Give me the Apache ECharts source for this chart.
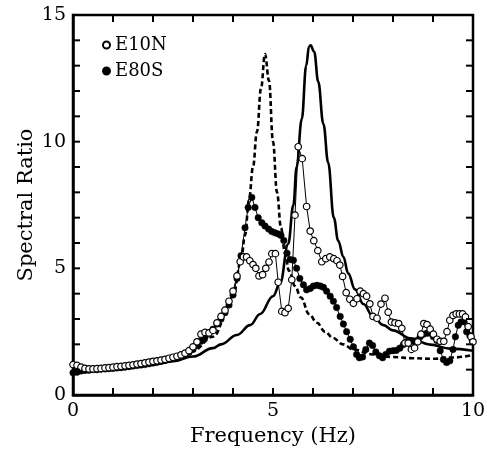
<!DOCTYPE html>
<html>
<head>
<meta charset="utf-8">
<script src="https://cdn.jsdelivr.net/npm/echarts@6/dist/echarts.min.js"></script>
<style>
html,body{margin:0;padding:0;background:#fff;}
#chart{width:490px;height:452px;}
</style>
</head>
<body>
<div id="chart"></div>
<script>
// ---- data ----
const seriesNames = ['E10N', 'E80S'];
const xTickLabels = [0, 5, 10];
const yTickLabels = [0, 5, 10, 15];
const xTickValues = [0, 1, 2, 3, 4, 5, 6, 7, 8, 9, 10];
const yTickValues = [0, 1, 2, 3, 4, 5, 6, 7, 8, 9, 10, 11, 12, 13, 14, 15];
const X_MIN = 0, X_MAX = 10, Y_MIN = 0, Y_MAX = 15;

const e10nFreq = [0,0.1,0.2,0.3,0.4,0.5,0.6,0.7,0.8,0.9,1.0,1.1,1.2,1.3,1.4,1.5,1.6,1.7,1.8,1.9,2.0,2.1,2.2,2.3,2.4,2.5,2.6,2.7,2.8,2.9,3.0,3.1,3.2,3.3,3.4,3.5,3.6,3.7,3.8,3.9,4.0,
  4.1,4.18,4.26,4.34,4.42,4.5,4.57,4.65,4.74,4.82,4.9,4.97,5.06,5.13,5.22,5.3,5.38,5.47,5.55,5.63,5.73,5.84,5.93,6.02,6.12,6.22,6.32,6.42,6.52,6.6,6.67,6.74,6.83,6.92,7.01,7.1,7.18,7.26,7.34,7.42,7.5,7.6,7.7,7.8,7.88,7.96,8.05,8.14,8.22,8.3,8.38,8.46,8.54,8.62,8.7,8.77,8.85,8.93,9.01,9.1,9.18,9.27,9.35,9.42,9.5,9.58,9.66,9.74,9.81,9.88,9.95,10.0];
const e10nVals = [1.2,1.17,1.1,1.05,1.03,1.03,1.04,1.05,1.07,1.08,1.1,1.12,1.13,1.15,1.17,1.19,1.22,1.24,1.27,1.3,1.33,1.35,1.38,1.41,1.45,1.49,1.53,1.58,1.65,1.75,1.9,2.1,2.4,2.47,2.45,2.55,2.85,3.1,3.35,3.7,4.1,
  4.7,5.26,5.45,5.45,5.3,5.15,5.0,4.7,4.75,5.0,5.25,5.58,5.58,4.45,3.3,3.25,3.42,4.55,7.1,9.8,9.33,7.44,6.47,6.09,5.7,5.26,5.38,5.45,5.38,5.3,5.13,4.68,4.04,3.78,3.62,3.8,4.1,4.0,3.9,3.6,3.1,3.03,3.59,3.82,3.27,2.88,2.85,2.82,2.63,2.05,2.05,1.8,1.86,2.1,2.4,2.82,2.78,2.6,2.4,2.2,2.12,2.12,2.5,2.95,3.14,3.2,3.2,3.2,3.08,2.7,2.3,2.1];

const e80sFreq = [0,0.1,0.2,0.3,0.4,0.5,0.6,0.7,0.8,0.9,1.0,1.1,1.2,1.3,1.4,1.5,1.6,1.7,1.8,1.9,2.0,2.1,2.2,2.3,2.4,2.5,2.6,2.7,2.8,2.9,3.0,3.1,3.2,3.3,3.4,3.5,3.6,3.7,3.8,3.9,4.0,
  4.1,4.2,4.3,4.38,4.47,4.55,4.63,4.72,4.8,4.89,4.97,5.05,5.13,5.2,5.27,5.35,5.43,5.51,5.59,5.67,5.76,5.84,5.93,6.01,6.1,6.18,6.26,6.34,6.43,6.51,6.59,6.68,6.76,6.84,6.93,7.01,7.09,7.16,7.24,7.32,7.41,7.49,7.57,7.66,7.74,7.82,7.91,8.0,8.08,8.17,8.26,8.34,8.43,8.51,8.6,8.68,8.76,8.85,8.93,9.01,9.1,9.18,9.26,9.34,9.42,9.5,9.56,9.63,9.7,9.77,9.84,9.92,9.98];
const e80sVals = [0.88,0.9,0.95,0.97,0.98,1.0,1.0,1.02,1.03,1.04,1.05,1.07,1.08,1.1,1.12,1.14,1.16,1.18,1.2,1.23,1.26,1.3,1.33,1.36,1.4,1.44,1.48,1.53,1.6,1.68,1.8,1.95,2.12,2.28,2.45,2.6,2.8,3.0,3.25,3.55,3.95,
  4.6,5.5,6.6,7.4,7.8,7.4,7.0,6.8,6.67,6.55,6.45,6.4,6.36,6.3,6.1,5.6,5.35,5.32,5.0,4.6,4.35,4.15,4.2,4.3,4.33,4.3,4.25,4.1,3.9,3.7,3.45,3.1,2.8,2.5,2.2,1.9,1.6,1.47,1.5,1.8,2.05,1.95,1.7,1.55,1.47,1.6,1.73,1.75,1.76,1.85,1.99,2.1,2.12,2.12,2.15,2.3,2.4,2.44,2.44,2.3,2.15,1.75,1.4,1.28,1.35,1.8,2.3,2.75,2.88,2.9,2.5,2.35,2.15];

// theoretical response (solid)
const solidFreq = [0,0.5,1.0,1.5,2.0,2.5,3.0,3.5,3.7,4.1,4.43,4.68,5.0,5.18,5.38,5.51,5.59,5.72,5.83,5.9,5.94,6.03,6.13,6.26,6.38,6.52,6.63,6.76,6.88,7.05,7.26,7.5,7.76,8.0,8.43,8.93,9.43,10.0];
const solidVals = [0.98,1.0,1.05,1.12,1.2,1.33,1.52,1.85,2.0,2.37,2.76,3.2,3.9,4.42,5.96,7.5,9.0,10.9,13.0,13.75,13.8,13.55,12.37,10.7,9.17,7.0,6.09,5.45,4.8,4.17,3.59,3.1,2.76,2.55,2.24,1.99,1.83,1.75];

// theoretical response (dashed)
const dashFreq = [0,1.0,2.0,3.0,3.5,4.0,4.2,4.3,4.4,4.5,4.6,4.7,4.8,4.9,5.0,5.1,5.2,5.3,5.4,5.55,5.7,5.9,6.1,6.3,6.5,6.75,7.0,7.5,8.0,8.5,9.0,9.5,10.0];
const dashVals = [0.95,1.06,1.28,1.75,2.3,3.9,5.3,6.3,7.7,9.0,10.4,12.1,13.46,12.4,10.0,8.0,6.6,5.6,4.9,4.3,3.85,3.2,2.85,2.5,2.25,2.0,1.8,1.6,1.5,1.45,1.43,1.48,1.58];

// ---- build ----
const zip = (xs, ys) => xs.map((x, i) => [x, ys[i]]);
const FONT = 'DejaVu Serif';
const TICK_LEN = 7;
const tickStyle = {stroke: '#000', lineWidth: 2};

// inward tick marks on all four sides, positioned through the axis scales
function xTickRender(params, api) {
  const v = api.value(0);
  const pb = api.coord([v, Y_MIN]);
  const pt = api.coord([v, Y_MAX]);
  return {type: 'group', children: [
    {type: 'line', shape: {x1: pb[0], y1: pb[1], x2: pb[0], y2: pb[1] - TICK_LEN}, style: tickStyle},
    {type: 'line', shape: {x1: pt[0], y1: pt[1], x2: pt[0], y2: pt[1] + TICK_LEN}, style: tickStyle}
  ]};
}
function yTickRender(params, api) {
  const v = api.value(1);
  const pl = api.coord([X_MIN, v]);
  const pr = api.coord([X_MAX, v]);
  return {type: 'group', children: [
    {type: 'line', shape: {x1: pl[0], y1: pl[1], x2: pl[0] + TICK_LEN, y2: pl[1]}, style: tickStyle},
    {type: 'line', shape: {x1: pr[0], y1: pr[1], x2: pr[0] - TICK_LEN, y2: pr[1]}, style: tickStyle}
  ]};
}

const chart = echarts.init(document.getElementById('chart'));

chart.setOption({
  backgroundColor: '#fff',
  animation: false,
  textStyle: {fontFamily: FONT, color: '#000'},
  grid: {left: 73, right: 17, top: 15, bottom: 47, show: true,
    borderColor: '#000', borderWidth: 2.5, backgroundColor: 'transparent'},
  legend: {
    data: seriesNames,
    orient: 'vertical',
    left: 97,
    top: 31,
    icon: 'circle',
    itemWidth: 7,
    itemHeight: 7,
    itemGap: 8,
    textStyle: {fontFamily: FONT, fontSize: 18, color: '#000'}
  },
  xAxis: {
    type: 'value', min: X_MIN, max: X_MAX, interval: 1,
    axisLine: {show: true, lineStyle: {color: '#000', width: 2.5}},
    axisTick: {show: false},
    splitLine: {show: false},
    name: 'Frequency (Hz)', nameLocation: 'middle', nameGap: 31, nameMoveOverlap: false,
    nameTextStyle: {fontFamily: FONT, fontSize: 21, color: '#000'},
    axisLabel: {show: true, margin: 7, fontFamily: FONT, fontSize: 19, color: '#000',
      formatter: v => (xTickLabels.indexOf(v) >= 0 ? String(v) : '')}
  },
  yAxis: {
    type: 'value', min: Y_MIN, max: Y_MAX, interval: 1,
    axisLine: {show: true, lineStyle: {color: '#000', width: 2.5}},
    axisTick: {show: false},
    splitLine: {show: false},
    name: 'Spectral Ratio', nameLocation: 'middle', nameGap: 36, nameRotate: 90, nameMoveOverlap: false,
    nameTextStyle: {fontFamily: FONT, fontSize: 21, color: '#000'},
    axisLabel: {show: true, margin: 7, fontFamily: FONT, fontSize: 19, color: '#000',
      formatter: v => (yTickLabels.indexOf(v) >= 0 ? String(v) : '')}
  },
  series: [
    {
      name: 'x-ticks', type: 'custom', clip: false, silent: true, z: 10,
      data: xTickValues.map(v => [v, Y_MIN]), encode: {x: 0, y: 1},
      renderItem: xTickRender
    },
    {
      name: 'y-ticks', type: 'custom', clip: false, silent: true, z: 10,
      data: yTickValues.map(v => [X_MIN, v]), encode: {x: 0, y: 1},
      renderItem: yTickRender
    },
    {
      name: 'theory-dashed', type: 'line', data: zip(dashFreq, dashVals),
      smooth: 0.4, smoothMonotone: 'x', showSymbol: false, z: 2,
      lineStyle: {color: '#000', width: 2.6, type: [5, 3]}
    },
    {
      name: 'theory-solid', type: 'line', data: zip(solidFreq, solidVals),
      smooth: 0.4, smoothMonotone: 'x', showSymbol: false, z: 2,
      lineStyle: {color: '#000', width: 2.6}
    },
    {
      name: 'E80S', type: 'line', data: zip(e80sFreq, e80sVals),
      symbol: 'circle', symbolSize: 6.5, showAllSymbol: true, z: 3,
      lineStyle: {color: '#000', width: 1},
      itemStyle: {color: '#000', borderColor: '#000', borderWidth: 0.5}
    },
    {
      name: 'E10N', type: 'line', data: zip(e10nFreq, e10nVals),
      symbol: 'circle', symbolSize: 6.5, showAllSymbol: true, z: 4,
      lineStyle: {color: '#000', width: 1},
      itemStyle: {color: '#fff', borderColor: '#000', borderWidth: 1.2}
    }
  ]
});
</script>
</body>
</html>
